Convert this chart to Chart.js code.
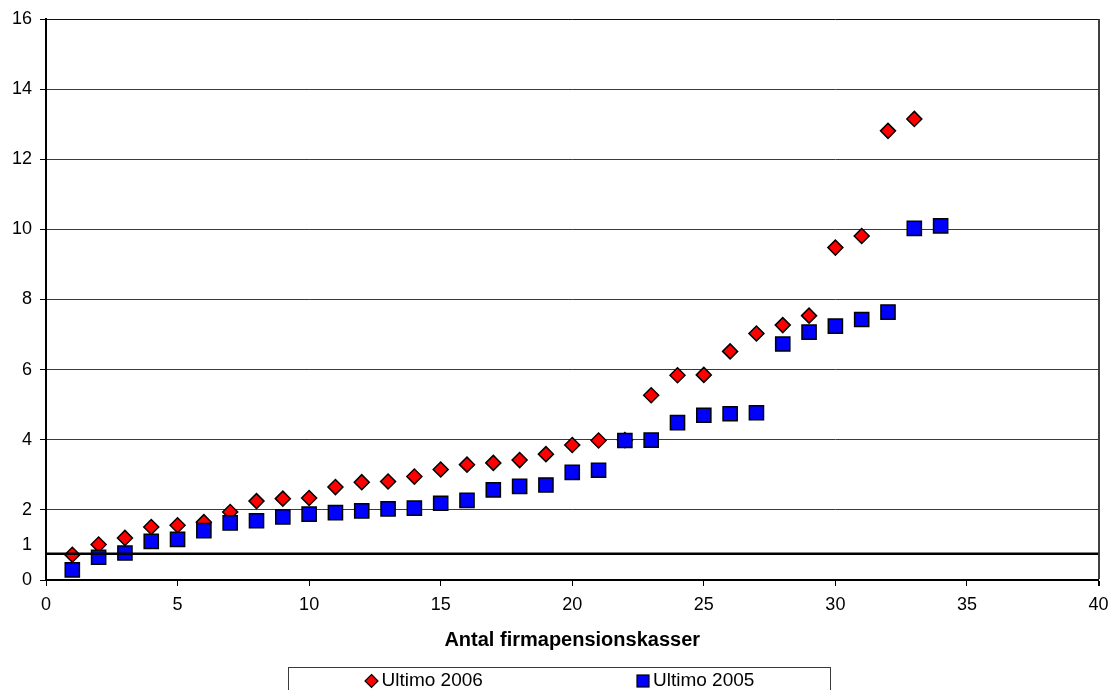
<!DOCTYPE html>
<html>
<head>
<meta charset="utf-8">
<script src="https://cdn.jsdelivr.net/npm/chart.js@4.4.0/dist/chart.umd.min.js"></script>
<style>
  html, body { margin: 0; padding: 0; background: #ffffff; }
  canvas { display: block; }
</style>
</head>
<body>
<canvas id="chart" width="1110" height="690"></canvas>
<script>
// Series labels
const seriesNames = ['Ultimo 2006', 'Ultimo 2005'];

// Ultimo 2006: rank of the pension fund and its value
const kasser2006 = [1, 2, 3, 4, 5, 6, 7, 8, 9, 10, 11, 12, 13, 14, 15, 16, 17,
                    18, 19, 20, 21, 22, 23, 24, 25, 26, 27, 28, 29, 30, 31, 32, 33];
const ultimo2006 = [0.72, 1.01, 1.20, 1.51, 1.56, 1.65, 1.94, 2.25, 2.32, 2.34, 2.65,
                    2.79, 2.81, 2.95, 3.15, 3.29, 3.34, 3.42, 3.59, 3.85, 3.98, 3.99,
                    5.27, 5.84, 5.85, 6.52, 7.03, 7.27, 7.54, 9.48, 9.81, 12.81, 13.15];

// Ultimo 2005: rank of the pension fund and its value
const kasser2005 = [1, 2, 3, 4, 5, 6, 7, 8, 9, 10, 11, 12, 13, 14, 15, 16, 17,
                    18, 19, 20, 21, 22, 23, 24, 25, 26, 27, 28, 29, 30, 31, 32, 33, 34];
const ultimo2005 = [0.29, 0.65, 0.77, 1.10, 1.16, 1.41, 1.63, 1.69, 1.80, 1.88, 1.92,
                    1.97, 2.03, 2.05, 2.19, 2.27, 2.57, 2.67, 2.71, 3.07, 3.13, 3.98,
                    3.99, 4.49, 4.70, 4.74, 4.77, 6.73, 7.07, 7.24, 7.43, 7.64, 10.03, 10.10];

// Horizontal reference level across the whole range
const referenceLevel = 0.75;
const referenceSpan = [0, 40];

// Axis ticks
const xTicks = [0, 5, 10, 15, 20, 25, 30, 35, 40];
const yTicks = [0, 1, 2, 4, 6, 8, 10, 12, 14, 16];
const xTitle = 'Antal firmapensionskasser';

const FONT = '"Liberation Sans", Arial, Helvetica, sans-serif';
const RED = '#ff0000';
const BLUE = '#0000ff';

const toPoints = (xs, ys) => xs.map((x, i) => ({ x, y: ys[i] }));

// Legend drawn in a framed box under the axis title
const boxedLegend = {
  id: 'boxedLegend',
  afterDraw(chart) {
    const ctx = chart.ctx;
    const cx = chart.width / 2;
    const top = 667;
    const midY = 681;
    ctx.save();
    ctx.strokeStyle = '#3a3a3a';
    ctx.lineWidth = 1;
    ctx.strokeRect(Math.round(cx - 267) + 0.5, top + 0.5, 542, 40);

    ctx.font = '19px ' + FONT;
    ctx.textBaseline = 'middle';
    ctx.textAlign = 'left';
    ctx.lineWidth = 1.2;
    ctx.strokeStyle = '#000';

    // diamond marker + label
    const d1 = cx - 183.5;
    ctx.beginPath();
    ctx.moveTo(d1, midY - 6.5);
    ctx.lineTo(d1 + 6.5, midY);
    ctx.lineTo(d1, midY + 6.5);
    ctx.lineTo(d1 - 6.5, midY);
    ctx.closePath();
    ctx.fillStyle = RED;
    ctx.fill();
    ctx.stroke();
    ctx.fillStyle = '#000';
    ctx.fillText(seriesNames[0], d1 + 10, midY);

    // square marker + label
    const d2 = cx + 88;
    ctx.fillStyle = BLUE;
    ctx.fillRect(d2 - 6, midY - 6, 12, 12);
    ctx.strokeRect(d2 - 6, midY - 6, 12, 12);
    ctx.fillStyle = '#000';
    ctx.fillText(seriesNames[1], d2 + 10, midY);
    ctx.restore();
  }
};

new Chart(document.getElementById('chart'), {
  type: 'scatter',
  data: {
    datasets: [
      {
        type: 'line',
        label: 'niveau',
        data: referenceSpan.map(x => ({ x, y: referenceLevel })),
        borderColor: '#000000',
        borderWidth: 2.5,
        pointRadius: 0,
        fill: false,
        order: 0
      },
      {
        label: seriesNames[1],
        data: toPoints(kasser2005, ultimo2005),
        pointStyle: 'rect',
        pointRadius: 10,
        backgroundColor: BLUE,
        borderColor: '#000000',
        borderWidth: 1.5,
        order: 1
      },
      {
        label: seriesNames[0],
        data: toPoints(kasser2006, ultimo2006),
        pointStyle: 'rectRot',
        pointRadius: 7.5,
        backgroundColor: RED,
        borderColor: '#000000',
        borderWidth: 1.5,
        order: 2
      }
    ]
  },
  options: {
    responsive: false,
    animation: false,
    devicePixelRatio: 1,
    layout: { padding: { top: 19, right: 0, left: 0, bottom: 38 } },
    plugins: {
      legend: { display: false },
      tooltip: { enabled: false }
    },
    scales: {
      x: {
        type: 'linear',
        min: 0,
        max: 40,
        afterBuildTicks: s => { s.ticks = xTicks.map(v => ({ value: v })); },
        afterFit: s => { s.height = 72; s.paddingRight = 11; },
        grid: {
          drawOnChartArea: true,
          color: c => (c.tick && c.tick.value === 40 ? '#404040' : 'rgba(0,0,0,0)'),
          lineWidth: c => (c.tick && c.tick.value === 40 ? 2 : 1),
          tickColor: '#000000',
          tickLength: 6
        },
        border: { color: '#000000', width: 2 },
        ticks: {
          color: '#000000',
          font: { size: 18, family: FONT },
          padding: 8,
          maxRotation: 0
        },
        title: {
          display: true,
          text: xTitle,
          color: '#000000',
          font: { size: 20, weight: 'bold', family: FONT },
          padding: { top: 0, bottom: 0 }
        }
      },
      y: {
        min: 0,
        max: 16,
        afterBuildTicks: s => { s.ticks = yTicks.map(v => ({ value: v })); },
        afterFit: s => { s.width = 46; },
        grid: {
          color: c => (c.tick && c.tick.value === 1 ? 'rgba(0,0,0,0)' : (c.tick && c.tick.value === 16 ? '#111111' : '#3a3a3a')),
          tickColor: c => (c.tick && c.tick.value === 1 ? 'rgba(0,0,0,0)' : '#000000'),
          tickLength: 6,
          lineWidth: 1
        },
        border: { color: '#000000', width: 2 },
        ticks: {
          color: '#000000',
          font: { size: 18, family: FONT },
          padding: 8
        }
      }
    }
  },
  plugins: [boxedLegend]
});
</script>
</body>
</html>
